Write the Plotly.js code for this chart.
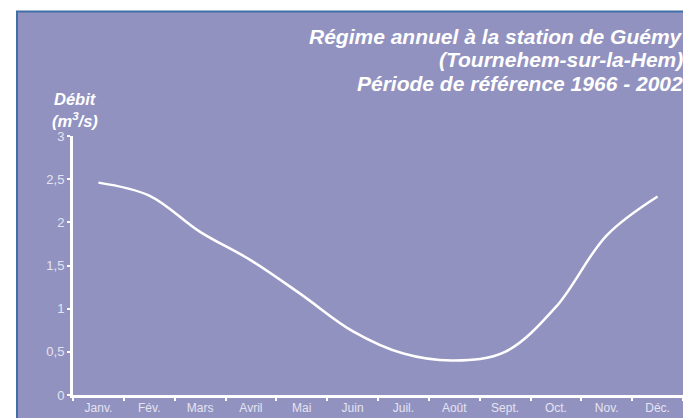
<!DOCTYPE html>
<html>
<head>
<meta charset="utf-8">
<script src="https://cdn.plot.ly/plotly-3.0.1.min.js"></script>
<style>html,body{margin:0;padding:0;background:#fff;}#chart{width:683px;height:418px;}</style>
</head>
<body>
<div id="chart"></div>
<script>
const months = ["Janv.", "Fév.", "Mars", "Avril", "Mai", "Juin", "Juil.", "Août", "Sept.", "Oct.", "Nov.", "Déc."];
const debit = [2.46, 2.31, 1.89, 1.56, 1.16, 0.74, 0.48, 0.40, 0.50, 1.02, 1.85, 2.30];
const yTickVals = [0, 0.5, 1, 1.5, 2, 2.5, 3];
const yTickText = ["0", "0,5", "1", "1,5", "2", "2,5", "3"];
const titleLines = ["Régime annuel à la station de Guémy", "(Tournehem-sur-la-Hem)", "Période de référence 1966 - 2002"];
const yLabelLines = ["Débit", "(m<sup>3</sup>/s)"];

const W = 683, H = 418, L = 73, R = 0, T = 136, B = 23;
const pw = W - L - R, ph = H - T - B;
const px = v => (v - L) / pw;
const py = v => (H - B - v) / ph;

const bg = "#9292c0";
const tickCol = "#e4e4f2";

const annotations = [];
const titleY = [36, 59.5, 83];
titleLines.forEach((t, i) => {
  annotations.push({
    text: "<b><i>" + t + "</i></b>", xref: "paper", yref: "paper", x: px(685), y: py(titleY[i]),
    xanchor: "right", yanchor: "middle", showarrow: false, align: "right",
    font: {family: "Liberation Sans, Arial, sans-serif", size: 21, color: "#ffffff"}
  });
});
const ylabY = [99, 120];
yLabelLines.forEach((t, i) => {
  annotations.push({
    text: "<b><i>" + t + "</i></b>", xref: "paper", yref: "paper", x: px(75), y: py(ylabY[i]),
    xanchor: "center", yanchor: "middle", showarrow: false,
    font: {family: "Liberation Sans, Arial, sans-serif", size: 16.5, color: "#ffffff"}
  });
});

const data = [{
  x: months, y: debit, type: "scatter", mode: "lines",
  line: {color: "#ffffff", width: 2.5, shape: "spline", smoothing: 1},
  hoverinfo: "skip", cliponaxis: false
}];

const layout = {
  width: W, height: H,
  margin: {l: L, r: R, t: T, b: B, pad: 0},
  paper_bgcolor: "#ffffff", plot_bgcolor: "rgba(0,0,0,0)",
  showlegend: false,
  font: {family: "Liberation Sans, Arial, sans-serif", color: tickCol},
  xaxis: {
    type: "category", tickson: "boundaries", range: [-0.5, 11.5],
    showgrid: false, zeroline: false, showline: true, linecolor: "#ffffff", linewidth: 3,
    ticks: "outside", ticklen: 3, tickwidth: 2, tickcolor: "#ffffff",
    tickfont: {size: 12, color: tickCol}, fixedrange: true
  },
  yaxis: {
    range: [0, 3], tickvals: yTickVals, ticktext: yTickText,
    showgrid: false, zeroline: false, showline: true, linecolor: "#ffffff", linewidth: 3,
    ticks: "outside", ticklen: 3, tickwidth: 2, tickcolor: "#ffffff",
    tickfont: {size: 13, color: tickCol}, fixedrange: true
  },
  shapes: [{
    type: "rect", xref: "paper", yref: "paper", layer: "below",
    x0: px(17), x1: px(700), y0: py(430), y1: py(11.5),
    fillcolor: bg, line: {color: "#3f6fa6", width: 2}
  }],
  annotations: annotations
};

Plotly.newPlot("chart", data, layout, {staticPlot: true, displayModeBar: false});
</script>
</body>
</html>
